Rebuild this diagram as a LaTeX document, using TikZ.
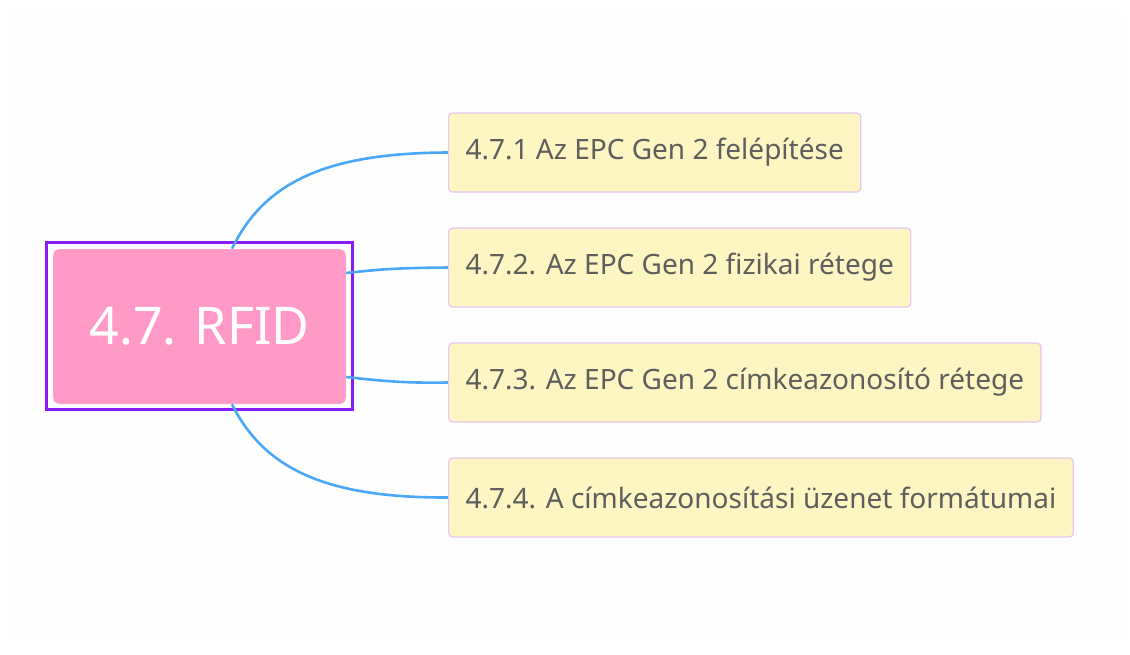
\documentclass[tikz,border=0pt]{standalone}
\usepackage{fontspec}
\setmainfont{Noto Sans}
\definecolor{linkblue}{HTML}{4AA8FA}
\definecolor{rootpink}{HTML}{FF99C6}
\definecolor{framepurple}{HTML}{8A1AFA}
\definecolor{childfill}{HTML}{FDF5C2}
\definecolor{childborder}{HTML}{E6C6F2}
\definecolor{childtext}{HTML}{5E5E5E}
\definecolor{bgfaint}{HTML}{FEFEFE}
\begin{document}
\begin{tikzpicture}[x=1pt,y=-1pt,
  link/.style={draw=linkblue,line width=2.6pt},
  childbox/.style={draw=childborder,fill=childfill,line width=1.2pt,rounded corners=4pt,
    anchor=west,minimum height=79pt,inner xsep=17pt,text=childtext,
    font=\fontsize{28}{32}\selectfont},
  rootbox/.style={fill=rootpink,draw=white,rounded corners=6pt,minimum width=293pt,
    minimum height=155pt,text=white,font=\fontsize{52}{58}\selectfont},
  rootframe/.style={draw=framepurple,line width=3pt,minimum width=306pt,minimum height=167pt}]
\useasboundingbox (0,0) rectangle (1130,654);
\fill[bgfaint] (5,12) rectangle (1125,640);
\node[rootframe,fill=white] (frame) at (199,325.5) {};
\node[rootbox] (root) at (199.5,326.5) {4.7. RFID};
\node[childbox] (c1) at (448,152.5) {4.7.1 Az EPC Gen 2 felépítése};
\node[childbox] (c2) at (448,267.5) {4.7.2. Az EPC Gen 2 fizikai rétege};
\node[childbox] (c3) at (448,382.5) {4.7.3. Az EPC Gen 2 címkeazonosító rétege};
\node[childbox] (c4) at (448,497.5) {4.7.4. A címkeazonosítási üzenet formátumai};
\draw[link] ([xshift=32.5pt]root.north) .. controls (265,180) and (330,153) .. (c1.west);
\draw[link] ([yshift=53.5pt]root.east) .. controls (390,268) and (410,268) .. (c2.west);
\draw[link] ([yshift=-50.5pt]root.east) .. controls (390,382) and (410,383) .. (c3.west);
\draw[link] ([xshift=32.5pt]root.south) .. controls (265,471) and (330,498) .. (c4.west);
\end{tikzpicture}
\end{document}
